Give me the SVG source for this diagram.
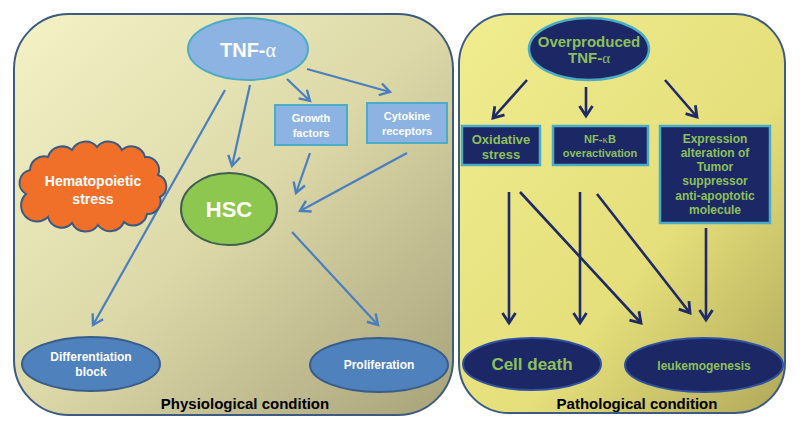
<svg xmlns="http://www.w3.org/2000/svg" width="800" height="430" viewBox="0 0 800 430">
<defs>
<linearGradient id="gl" x1="0" y1="0" x2="1" y2="1">
<stop offset="0" stop-color="#f4f3c6"/>
<stop offset="0.5" stop-color="#dcd8a8"/>
<stop offset="1" stop-color="#a8a27a"/>
</linearGradient>
<linearGradient id="gr" x1="0" y1="0" x2="1" y2="1">
<stop offset="0" stop-color="#f0ed90"/>
<stop offset="0.6" stop-color="#e4df7a"/>
<stop offset="1" stop-color="#b0a85a"/>
</linearGradient>
<marker id="ab" markerUnits="userSpaceOnUse" markerWidth="16" markerHeight="16" viewBox="-13 -8 16 16" refX="0" refY="0" orient="auto">
<path d="M-10,-6 L0,0 L-10,6" fill="none" stroke="#4a7fbf" stroke-width="2.4"/>
</marker>
<marker id="an" markerUnits="userSpaceOnUse" markerWidth="16" markerHeight="16" viewBox="-13 -8 16 16" refX="0" refY="0" orient="auto">
<path d="M-10,-6.5 L0,0 L-10,6.5" fill="none" stroke="#1f2a66" stroke-width="2.8"/>
</marker>
</defs>
<style>
.panel{stroke:#3d5a80;stroke-width:2}
.t{font-family:"Liberation Sans",Arial,sans-serif;font-weight:bold;text-anchor:middle}
.w{fill:#ffffff}
.g{fill:#8dc05a}
.k{fill:#000000}
.a{font-family:"Liberation Serif","DejaVu Serif",serif;font-weight:normal}
.lb{fill:#8db3e2;stroke:#4bacc6;stroke-width:2}
.db{fill:#4f81bd;stroke:#385d8a;stroke-width:2}
.nv{fill:#1c2766;stroke:#4bacc6;stroke-width:2.5}
.nve{fill:#1c2766;stroke:#2f52a0;stroke-width:2}
.cl{fill:none;stroke:#4a7fbf;stroke-width:2.2;marker-end:url(#ab)}
.cn{fill:none;stroke:#1f2a66;stroke-width:2.6;marker-end:url(#an)}
</style>

<g id="panel-physiological">
<rect class="panel" x="14" y="14" width="439" height="401" rx="55" ry="55" fill="url(#gl)"/>
<text class="t k" x="245" y="409" font-size="15">Physiological condition</text>
</g>
<g id="panel-pathological">
<rect class="panel" x="459" y="14" width="326" height="399" rx="50" ry="50" fill="url(#gr)"/>
<text class="t k" x="637" y="409" font-size="15">Pathological condition</text>
</g>

<g id="connectors">
<line class="cl" x1="225" y1="90" x2="93" y2="325"/>
<line class="cl" x1="250" y1="85" x2="232" y2="166"/>
<line class="cl" x1="287" y1="79" x2="310" y2="101"/>
<line class="cl" x1="307" y1="69" x2="390" y2="92"/>
<line class="cl" x1="310" y1="153" x2="296" y2="193"/>
<line class="cl" x1="407" y1="153" x2="300" y2="211"/>
<line class="cl" x1="292" y1="232" x2="378" y2="325"/>
<line class="cn" x1="527" y1="80" x2="493" y2="118"/>
<line class="cn" x1="586" y1="87" x2="586" y2="116"/>
<line class="cn" x1="665" y1="80" x2="697" y2="117"/>
<line class="cn" x1="509" y1="192" x2="509" y2="323"/>
<line class="cn" x1="520" y1="192" x2="641" y2="323"/>
<line class="cn" x1="580" y1="192" x2="580" y2="323"/>
<line class="cn" x1="597" y1="194" x2="690" y2="313"/>
<line class="cn" x1="706" y1="228" x2="706" y2="320"/>
</g>

<g id="tnf">
<ellipse class="lb" cx="248" cy="49" rx="60" ry="31"/>
<text class="t w" x="248" y="57" font-size="20">TNF-<tspan class="a">α</tspan></text>
</g>
<g id="growth-factors">
<rect class="lb" x="275" y="105" width="72" height="40"/>
<text class="t w" x="311" y="122" font-size="11">Growth</text>
<text class="t w" x="311" y="137" font-size="11">factors</text>
</g>
<g id="cytokine-receptors">
<rect class="lb" x="367" y="103" width="80" height="40"/>
<text class="t w" x="407" y="120" font-size="11">Cytokine</text>
<text class="t w" x="407" y="135" font-size="11">receptors</text>
</g>
<g id="hematopoietic-stress">
<path d="M26,194 A13,13 0 0 1 30,170 A14,14 0 0 1 48,157 A15,15 0 0 1 72,150 A15,15 0 0 1 97,147 A15,15 0 0 1 122,150 A14,14 0 0 1 145,157 A13,13 0 0 1 158,175 A12,12 0 0 1 160,197 A13,13 0 0 1 147,214 A14,14 0 0 1 124,222 A15,15 0 0 1 98,225 A15,15 0 0 1 72,223 A14,14 0 0 1 48,217 A13,13 0 0 1 26,194 Z" fill="#f0702a" stroke="#3d5a80" stroke-width="2"/>
<text class="t w" x="93" y="186" font-size="14">Hematopoietic</text>
<text class="t w" x="93" y="204" font-size="14">stress</text>
</g>
<g id="hsc">
<ellipse cx="229" cy="209" rx="48" ry="36" fill="#8dc74f" stroke="#3f5f4f" stroke-width="2"/>
<text class="t w" x="229" y="217" font-size="22">HSC</text>
</g>
<g id="differentiation-block">
<ellipse class="db" cx="91" cy="364" rx="69" ry="27"/>
<text class="t w" x="91" y="361" font-size="12">Differentiation</text>
<text class="t w" x="91" y="376" font-size="12">block</text>
</g>
<g id="proliferation">
<ellipse class="db" cx="379" cy="365" rx="69" ry="27"/>
<text class="t w" x="379" y="369" font-size="12">Proliferation</text>
</g>

<g id="overproduced-tnf">
<ellipse class="nv" cx="589" cy="49" rx="60" ry="31"/>
<text class="t g" x="589" y="47" font-size="15">Overproduced</text>
<text class="t g" x="589" y="63" font-size="15">TNF-<tspan class="a">α</tspan></text>
</g>
<g id="oxidative-stress">
<rect class="nv" x="462" y="126" width="78" height="39"/>
<text class="t g" x="501" y="144" font-size="13">Oxidative</text>
<text class="t g" x="501" y="159" font-size="13">stress</text>
</g>
<g id="nfkb">
<rect class="nv" x="553" y="126" width="95" height="39"/>
<text class="t g" x="600" y="143" font-size="11">NF-<tspan class="a">κ</tspan>B</text>
<text class="t g" x="600" y="157" font-size="11">overactivation</text>
</g>
<g id="expression-alteration">
<rect class="nv" x="660" y="126" width="110" height="97"/>
<text class="t g" x="715" y="143" font-size="12">Expression</text>
<text class="t g" x="715" y="157" font-size="12">alteration of</text>
<text class="t g" x="715" y="171" font-size="12">Tumor</text>
<text class="t g" x="715" y="185" font-size="12">suppressor</text>
<text class="t g" x="715" y="200" font-size="12">anti-apoptotic</text>
<text class="t g" x="715" y="214" font-size="12">molecule</text>
</g>
<g id="cell-death">
<ellipse class="nve" cx="532" cy="364" rx="69" ry="26"/>
<text class="t g" x="532" y="370" font-size="17">Cell death</text>
</g>
<g id="leukemogenesis">
<ellipse class="nve" cx="704" cy="365" rx="79" ry="27"/>
<text class="t g" x="704" y="370" font-size="12">leukemogenesis</text>
</g>
</svg>
